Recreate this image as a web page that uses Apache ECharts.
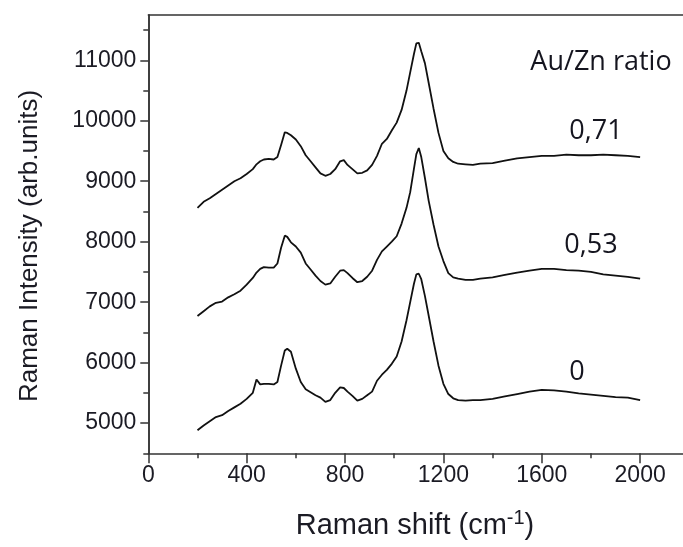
<!DOCTYPE html>
<html>
<head>
<meta charset="utf-8">
<script src="https://cdn.jsdelivr.net/npm/echarts@6/dist/echarts.min.js"></script>
<style>
html,body{margin:0;padding:0;background:#fff;}
#chart{width:683px;height:547px;}
</style>
</head>
<body>
<div id="chart"></div>
<script>
// Raman shift (cm-1) sample positions
const ramanShift = [200,225,250,275,300,325,350,375,400,425,440,455,470,490,510,525,540,555,565,580,600,620,640,660,680,700,720,740,760,780,795,810,830,850,870,890,910,930,950,970,990,1010,1030,1050,1065,1080,1090,1100,1110,1125,1140,1160,1180,1200,1220,1240,1260,1290,1320,1350,1400,1450,1500,1550,1600,1650,1700,1750,1800,1850,1900,1950,2000];

// Au/Zn ratio 0,71
const ratio071 = [8560,8660,8720,8790,8860,8930,9000,9050,9120,9200,9280,9330,9360,9370,9360,9400,9600,9810,9800,9760,9690,9580,9430,9330,9230,9130,9090,9120,9200,9330,9350,9270,9200,9130,9140,9180,9270,9420,9620,9700,9840,9970,10180,10500,10800,11100,11280,11290,11150,10950,10630,10200,9800,9500,9380,9320,9290,9280,9270,9290,9300,9340,9380,9400,9420,9420,9440,9430,9430,9440,9430,9420,9400];

// Au/Zn ratio 0,53
const ratio053 = [6770,6850,6930,6990,7010,7080,7130,7190,7290,7400,7490,7550,7580,7570,7570,7640,7900,8100,8080,7990,7920,7820,7640,7540,7440,7350,7290,7310,7420,7520,7530,7480,7400,7330,7350,7420,7520,7700,7840,7920,8000,8090,8300,8560,8820,9200,9450,9550,9400,9050,8680,8280,7920,7680,7480,7410,7390,7370,7370,7390,7410,7450,7490,7520,7550,7550,7530,7520,7500,7460,7440,7420,7390];

// Au/Zn ratio 0
const ratio0 = [4880,4960,5030,5100,5130,5200,5260,5320,5400,5500,5720,5640,5650,5650,5640,5680,5950,6200,6230,6180,5900,5680,5560,5510,5460,5420,5350,5380,5500,5590,5580,5520,5450,5370,5400,5460,5520,5700,5800,5880,5980,6100,6350,6700,7000,7300,7460,7470,7380,7100,6780,6350,5950,5650,5480,5410,5380,5370,5380,5380,5400,5440,5480,5520,5550,5540,5520,5490,5470,5450,5430,5420,5380];

const seriesNames = ['0,71', '0,53', '0'];
const legendTitle = 'Au/Zn ratio';

const axisColor = '#333';
const labelFont = {fontFamily: 'Liberation Sans, Arial, sans-serif', fontSize: 23, color: '#1b1b24', formatter: v => String(v)};

const chart = echarts.init(document.getElementById('chart'), null, {renderer: 'canvas'});

const L = 148.3, W = 590.2;
const pairs = arr => ramanShift.map((x, i) => [x, arr[i]]);
const gridBase = {left: L, width: W, show: false, containLabel: false, outerBoundsMode: 'none'};

const option = {
  backgroundColor: '#fff',
  animation: false,
  grid: [
    Object.assign({top: 15, height: 438.3}, gridBase),
    Object.assign({top: 30.1, height: 423.2}, gridBase),
    Object.assign({top: 60.3, height: 362.8}, gridBase)
  ],
  xAxis: [
    {
      gridIndex: 0, type: 'value', min: 0, max: 2400, interval: 400, position: 'bottom',
      axisLine: {show: true, lineStyle: {color: axisColor, width: 1.5}},
      axisTick: {show: true, length: 10, lineStyle: {color: axisColor, width: 1.5}},
      minorTick: {show: true, splitNumber: 2, length: 5, lineStyle: {color: axisColor, width: 1.5}},
      axisLabel: Object.assign({margin: 11}, labelFont),
      splitLine: {show: false}
    },
    {
      gridIndex: 0, type: 'value', min: 0, max: 2400, position: 'top',
      axisLine: {show: true, lineStyle: {color: axisColor, width: 1.5}},
      axisTick: {show: false}, axisLabel: {show: false}, splitLine: {show: false}
    },
    {gridIndex: 1, type: 'value', min: 0, max: 2400, show: false},
    {gridIndex: 2, type: 'value', min: 0, max: 2400, show: false}
  ],
  yAxis: [
    {
      gridIndex: 0, type: 'value', min: 4500, max: 11750, position: 'left',
      axisLine: {show: true, lineStyle: {color: axisColor, width: 1.5}},
      axisTick: {show: false}, axisLabel: {show: false}, splitLine: {show: false}
    },
    {
      gridIndex: 0, type: 'value', min: 4500, max: 11750, position: 'right',
      axisLine: {show: true, lineStyle: {color: axisColor, width: 1.5}},
      axisTick: {show: false}, axisLabel: {show: false}, splitLine: {show: false}
    },
    {
      gridIndex: 1, type: 'value', min: 4500, max: 11500, interval: 500, position: 'left',
      axisLine: {show: false},
      axisTick: {show: true, length: 5, lineStyle: {color: axisColor, width: 1.5}},
      axisLabel: {show: false}, splitLine: {show: false}
    },
    {
      gridIndex: 2, type: 'value', min: 5000, max: 11000, interval: 1000, position: 'left',
      axisLine: {show: false},
      axisTick: {show: true, length: 8, lineStyle: {color: axisColor, width: 1.5}},
      axisLabel: Object.assign({margin: 12}, labelFont),
      splitLine: {show: false}
    }
  ],
  series: [
    {name: seriesNames[0], type: 'line', xAxisIndex: 0, yAxisIndex: 0, data: pairs(ratio071), showSymbol: false, lineStyle: {color: '#111', width: 1.8}},
    {name: seriesNames[1], type: 'line', xAxisIndex: 0, yAxisIndex: 0, data: pairs(ratio053), showSymbol: false, lineStyle: {color: '#111', width: 1.8}},
    {name: seriesNames[2], type: 'line', xAxisIndex: 0, yAxisIndex: 0, data: pairs(ratio0), showSymbol: false, lineStyle: {color: '#111', width: 1.8}}
  ],
  graphic: [
    {type: 'text', x: 415, y: 526, style: {text: 'Raman shift (cm{sup|-1})', align: 'center', verticalAlign: 'middle', fontFamily: 'Liberation Sans, Arial, sans-serif', fontSize: 29, fill: '#1b1b24',
      rich: {sup: {fontSize: 20, verticalAlign: 'top', padding: [0, 0, 16, 0], fontFamily: 'Liberation Sans, Arial, sans-serif', fill: '#1b1b24'}}}},
    {type: 'text', x: 30, y: 246, rotation: Math.PI / 2, style: {text: 'Raman Intensity (arb.units)', align: 'center', verticalAlign: 'middle', fontFamily: 'Liberation Sans, Arial, sans-serif', fontSize: 26, fill: '#1b1b24'}},
    {type: 'text', x: 601, y: 62, style: {text: legendTitle, align: 'center', verticalAlign: 'middle', fontFamily: 'Open Sans, sans-serif', fontSize: 27, fill: '#15151f'}},
    {type: 'text', x: 596, y: 131, style: {text: seriesNames[0], align: 'center', verticalAlign: 'middle', fontFamily: 'Open Sans, sans-serif', fontSize: 27, fill: '#15151f'}},
    {type: 'text', x: 591, y: 245, style: {text: seriesNames[1], align: 'center', verticalAlign: 'middle', fontFamily: 'Open Sans, sans-serif', fontSize: 27, fill: '#15151f'}},
    {type: 'text', x: 577, y: 372, style: {text: seriesNames[2], align: 'center', verticalAlign: 'middle', fontFamily: 'Open Sans, sans-serif', fontSize: 27, fill: '#15151f'}}
  ]
};
chart.setOption(option);
</script>
</body>
</html>
